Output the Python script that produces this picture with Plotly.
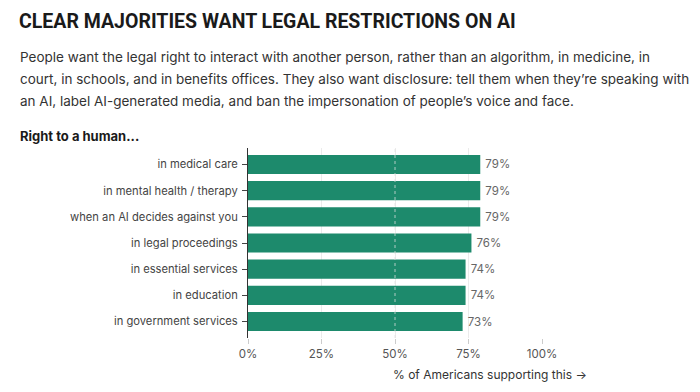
import plotly.graph_objects as go

categories = [
    "in medical care",
    "in mental health / therapy",
    "when an AI decides against you",
    "in legal proceedings",
    "in essential services",
    "in education",
    "in government services",
]
values = [79, 79, 79, 76, 74, 74, 73]
tick_vals = [0, 25, 50, 75, 100]
tick_text = ["0%", "25%", "50%", "75%", "100%"]

title_text = "CLEAR MAJORITIES WANT LEGAL RESTRICTIONS ON AI"
subtitle_lines = [
    "People want the legal right to interact with another person, rather than an algorithm, in medicine, in",
    "court, in schools, and in benefits offices. They also want disclosure: tell them when they\u2019re speaking with",
    "an AI, label AI-generated media, and ban the impersonation of people\u2019s voice and face.",
]
section_label = "Right to a human..."
axis_title = "% of Americans supporting this \u2192"

W, H = 700, 392
L, R, T, B = 248, 542, 148, 338


def px(x):
    return (x - L) / (R - L)


def py(y):
    return (B - y) / (B - T)


BAR = "#1d8a6c"
TXT = "#333333"
SUB_FONT = "Inter, 'Open Sans', sans-serif"

fig = go.Figure(
    go.Bar(
        x=values,
        y=categories,
        orientation="h",
        marker=dict(color=BAR, line=dict(width=0)),
        width=0.73,
        text=[f"\u2009{v}%" for v in values],
        textposition="outside",
        textfont=dict(family=SUB_FONT, size=11.5, color="#666666"),
        cliponaxis=False,
        hoverinfo="skip",
    )
)

fig.update_layout(
    width=W,
    height=H,
    margin=dict(l=L, r=W - R, t=T, b=H - B, pad=0),
    paper_bgcolor="white",
    plot_bgcolor="white",
    showlegend=False,
    font=dict(family=SUB_FONT, color=TXT),
    xaxis=dict(
        range=[0, 100],
        tickvals=tick_vals,
        ticktext=tick_text,
        ticks="outside",
        ticklen=5,
        tickcolor="#cccccc",
        showgrid=True,
        gridcolor="#ebebeb",
        gridwidth=1,
        zeroline=False,
        showline=False,
        tickfont=dict(family=SUB_FONT, size=11.5, color="#555555"),
        fixedrange=True,
    ),
    yaxis=dict(
        categoryorder="array",
        categoryarray=categories,
        range=[6.63, -0.63],
        ticks="outside",
        ticklen=5,
        tickcolor="#444444",
        showline=True,
        linecolor="#333333",
        linewidth=1,
        showgrid=False,
        tickfont=dict(family=SUB_FONT, size=11.2, color="#444444"),
        ticklabelstandoff=2,
        fixedrange=True,
    ),
)

# dashed 50% reference line over bars
fig.add_shape(
    type="line", xref="x", yref="paper", x0=50, x1=50, y0=0, y1=1,
    line=dict(color="rgba(225,225,225,0.75)", width=1, dash="3px,3px"),
    layer="above",
)

annotations = [
    dict(text=title_text, x=px(17), y=py(22), xanchor="left", yanchor="middle",
         font=dict(family="Roboto, sans-serif", size=19.5, color="#1a1a1a", weight="bold")),
    dict(text=section_label, x=px(18), y=py(136), xanchor="left", yanchor="middle",
         font=dict(family=SUB_FONT, size=13, color="#1a1a1a", weight="bold")),
    dict(text=axis_title, x=px(490), y=py(374), xanchor="center", yanchor="middle",
         font=dict(family=SUB_FONT, size=12, color=TXT)),
]
for i, line in enumerate(subtitle_lines):
    annotations.append(
        dict(text=line, x=px(18), y=py(57 + 22 * i), xanchor="left", yanchor="middle",
             font=dict(family=SUB_FONT, size=13.5, color=TXT))
    )
for a in annotations:
    a.update(xref="paper", yref="paper", showarrow=False)
fig.update_layout(annotations=annotations)

fig.write_html("out.html")
